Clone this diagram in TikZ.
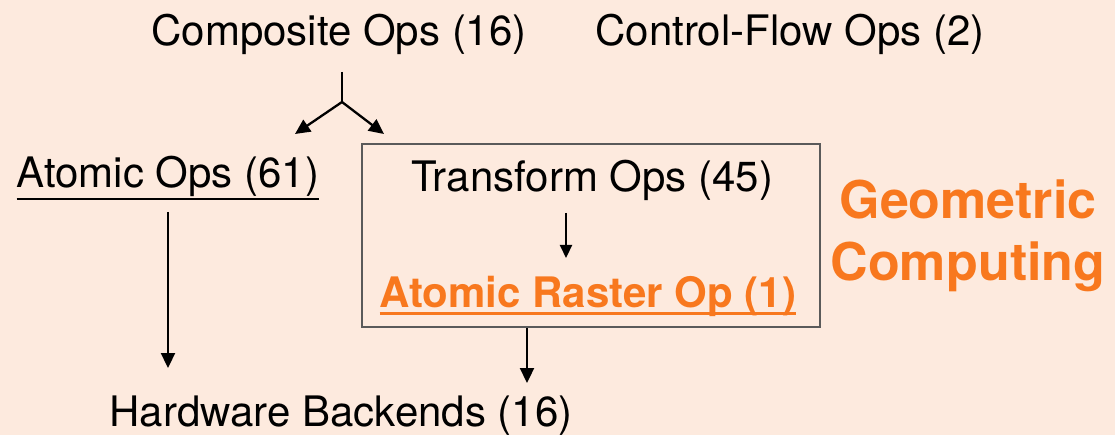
\documentclass[tikz,border=0pt]{standalone}
\usepackage{fontspec}
\setmainfont{TeX Gyre Heros}
\usetikzlibrary{arrows.meta,calc}
\definecolor{bg}{RGB}{253,234,222}
\definecolor{orng}{RGB}{248,120,30}
\definecolor{boxgray}{RGB}{90,90,90}
\begin{document}
\begin{tikzpicture}[x=1pt,y=-1pt,
  lbl/.style={inner sep=0pt, anchor=base, font=\fontsize{42}{48}\selectfont},
  blbl/.style={inner sep=0pt, anchor=base, font=\fontsize{42}{48}\selectfont\bfseries, text=orng},
  glbl/.style={inner sep=0pt, anchor=base, font=\fontsize{52}{61}\selectfont\bfseries, text=orng},
  uline/.style={line width=2.4pt},
  arr/.style={-{Triangle[length=15pt,width=14pt]}, line width=2.3pt},
  sarr/.style={-{Triangle[length=13pt,width=12pt]}, line width=2.2pt},
  frame/.style={draw=boxgray, line width=2pt, inner sep=0pt}]
\useasboundingbox (0,0) rectangle (1115,435);
\fill[bg] (0,0) rectangle (1115,435);

\node[lbl] (comp) at (339,46) {Composite Ops (16)};
\node[lbl] (ctrl) at (790,46) {Control-Flow Ops (2)};
\node[lbl] (atomic) at (168,188) {Atomic Ops (61)};
\node[frame, minimum width=458pt, minimum height=183pt] (box) at (591,235.5) {};
\node[lbl] (transform) at (592,192) {Transform Ops (45)};
\node[blbl] (raster) at (588,307) {Atomic Raster Op (1)};
\node[lbl] (hw) at (341,426) {Hardware Backends (16)};
\node[glbl] (geo1) at (968,219) {Geometric};
\node[glbl] (geo2) at (968,280) {Computing};

% underlines
\draw[uline] ($(atomic.base west)+(0,11)$) -- ($(atomic.base east)+(0,11)$);
\draw[uline, orng] ($(raster.base west)+(0,6.5)$) -- ($(raster.base east)+(0,6.5)$);

% fork from composite ops
\coordinate (f0) at (342,72);
\coordinate (f1) at (342,102);
\coordinate (fl) at (295,134);
\coordinate (fr) at (384,134);
\draw[line width=2.3pt] (f0) -- (f1);
\draw[arr] (f1) -- (fl);
\draw[arr] (f1) -- (fr);

% transform -> raster
\coordinate (t0) at (566,213);
\coordinate (t1) at (566,258);
\draw[sarr] (t0) -- (t1);

% atomic -> hardware
\coordinate (a0) at (168,212);
\coordinate (a1) at (168,368);
\draw[arr] (a0) -- (a1);

% box -> hardware
\coordinate (b1) at (527,383);
\draw[arr] (box.south -| b1) -- (b1);
\end{tikzpicture}
\end{document}
